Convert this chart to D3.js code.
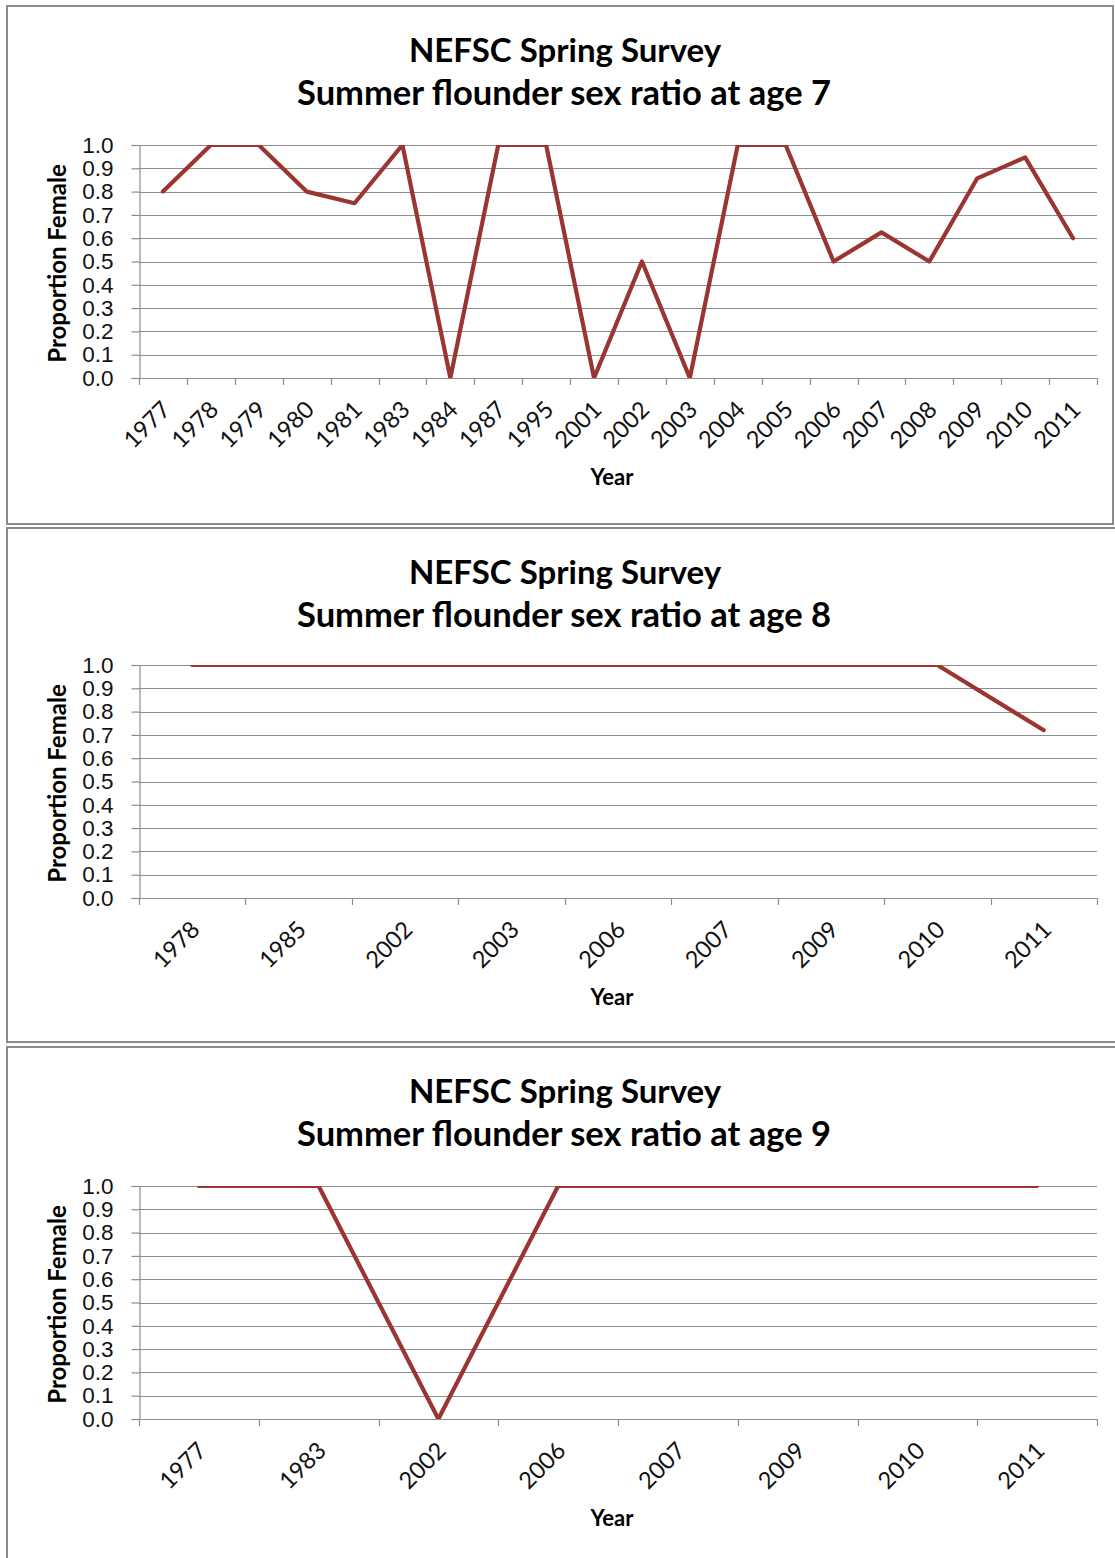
<!DOCTYPE html>
<html>
<head>
<meta charset="utf-8">
<script src="https://cdn.jsdelivr.net/npm/d3@7"></script>
<style>
  html, body { margin: 0; padding: 0; background: #ffffff; }
  svg { display: block; }
</style>
</head>
<body>
<svg id="chart" width="1115" height="1558"></svg>
<script>
// ---------------- DATA ----------------
const titleLine1 = "NEFSC Spring Survey";
const titleLines2 = [
  "Summer flounder sex ratio at age 7",
  "Summer flounder sex ratio at age 8",
  "Summer flounder sex ratio at age 9"
];
const yAxisTitle = "Proportion Female";
const xAxisTitle = "Year";
const yTickValues = [0.0, 0.1, 0.2, 0.3, 0.4, 0.5, 0.6, 0.7, 0.8, 0.9, 1.0];

const years7 = ["1977","1978","1979","1980","1981","1983","1984","1987","1995","2001",
                "2002","2003","2004","2005","2006","2007","2008","2009","2010","2011"];
const values7 = [0.80, 1.00, 1.00, 0.80, 0.75, 1.00, 0.00, 1.00, 1.00, 0.00,
                 0.50, 0.00, 1.00, 1.00, 0.50, 0.625, 0.50, 0.857, 0.947, 0.60];

const years8 = ["1978","1985","2002","2003","2006","2007","2009","2010","2011"];
const values8 = [1.00, 1.00, 1.00, 1.00, 1.00, 1.00, 1.00, 1.00, 0.72];

const years9 = ["1977","1983","2002","2006","2007","2009","2010","2011"];
const values9 = [1.00, 1.00, 0.00, 1.00, 1.00, 1.00, 1.00, 1.00];

// ---------------- LAYOUT ----------------
const panels = [
  { years: years7, values: values7, title2: titleLines2[0], boxTop: 6,    boxBottom: 524,  boxRight: 1113, plotTop: 145,  plotBottom: 378 },
  { years: years8, values: values8, title2: titleLines2[1], boxTop: 528,  boxBottom: 1042, boxRight: 1125, plotTop: 665,  plotBottom: 898 },
  { years: years9, values: values9, title2: titleLines2[2], boxTop: 1047, boxBottom: 1570, boxRight: 1125, plotTop: 1186, plotBottom: 1419 }
];
const plotLeft = 139, plotRight = 1097, boxLeft = 7;
const lineColor = "#9a3532";
const gridColor = "#8e8e8e";
const borderColor = "#8a8a8a";
const titleFont = "Lato, 'Open Sans', sans-serif";
const tickFont = "'Liberation Sans', Arial, sans-serif";

const svg = d3.select("#chart");
const defs = svg.append("defs");

panels.forEach((p, i) => {
  const g = svg.append("g");

  // outer frame
  g.append("rect")
    .attr("x", boxLeft).attr("y", p.boxTop)
    .attr("width", p.boxRight - boxLeft).attr("height", p.boxBottom - p.boxTop)
    .attr("fill", "#ffffff").attr("stroke", borderColor).attr("stroke-width", 2);

  const x = d3.scaleBand().domain(p.years).range([plotLeft, plotRight]).paddingInner(0).paddingOuter(0);
  const y = d3.scaleLinear().domain([0, 1]).range([p.plotBottom, p.plotTop]);

  // titles
  g.append("text")
    .attr("x", 565).attr("y", p.boxTop + 56)
    .attr("text-anchor", "middle")
    .attr("font-family", titleFont).attr("font-weight", "bold").attr("font-size", 33)
    .attr("fill", "#000").text(titleLine1);
  g.append("text")
    .attr("x", 564).attr("y", p.boxTop + 99)
    .attr("text-anchor", "middle")
    .attr("font-family", titleFont).attr("font-weight", "bold").attr("font-size", 34.5)
    .attr("fill", "#000").text(p.title2);

  // horizontal gridlines
  g.append("g").selectAll("line").data(yTickValues).join("line")
    .attr("x1", plotLeft).attr("x2", plotRight)
    .attr("y1", d => Math.round(y(d)) + 0.5).attr("y2", d => Math.round(y(d)) + 0.5)
    .attr("stroke", gridColor).attr("stroke-width", 1.2);

  // y axis
  const yAxis = d3.axisLeft(y).tickValues(yTickValues).tickFormat(d3.format(".1f")).tickSize(8).tickPadding(18);
  const ya = g.append("g").attr("transform", `translate(${plotLeft + 0.5},0)`).call(yAxis);
  ya.select(".domain").attr("stroke", gridColor).attr("stroke-width", 1.2);
  ya.selectAll(".tick line").attr("stroke", gridColor).attr("stroke-width", 1.2);
  ya.selectAll(".tick text")
    .attr("font-family", tickFont).attr("font-size", 22.5).attr("fill", "#111");

  // x axis with ticks at category boundaries
  const bounds = p.years.map(d => x(d)).concat([plotRight]);
  const xa = g.append("g");
  xa.append("line")
    .attr("x1", plotLeft).attr("x2", plotRight)
    .attr("y1", p.plotBottom + 0.5).attr("y2", p.plotBottom + 0.5)
    .attr("stroke", gridColor).attr("stroke-width", 1.2);
  xa.selectAll("line.tk").data(bounds).join("line").attr("class", "tk")
    .attr("x1", d => Math.round(d) + 0.5).attr("x2", d => Math.round(d) + 0.5)
    .attr("y1", p.plotBottom).attr("y2", p.plotBottom + 7)
    .attr("stroke", gridColor).attr("stroke-width", 1.2);
  xa.selectAll("text").data(p.years).join("text")
    .attr("transform", d => `translate(${x(d) + x.bandwidth() / 2 + 9},${p.plotBottom + 33}) rotate(-45)`)
    .attr("text-anchor", "end")
    .attr("font-family", titleFont).attr("font-size", 23.5).attr("fill", "#111")
    .text(d => d);

  // axis titles
  g.append("text")
    .attr("transform", `translate(66,${(p.plotTop + p.plotBottom) / 2 + 2}) rotate(-90)`)
    .attr("text-anchor", "middle")
    .attr("font-family", titleFont).attr("font-weight", "bold").attr("font-size", 24)
    .attr("fill", "#000").text(yAxisTitle);
  g.append("text")
    .attr("x", 612).attr("y", p.plotBottom + 107)
    .attr("text-anchor", "middle")
    .attr("font-family", titleFont).attr("font-weight", "bold").attr("font-size", 22)
    .attr("fill", "#000").text(xAxisTitle);

  // clip + data line
  const clipId = "clip" + i;
  defs.append("clipPath").attr("id", clipId).append("rect")
    .attr("x", plotLeft).attr("y", p.plotTop)
    .attr("width", plotRight - plotLeft).attr("height", p.plotBottom - p.plotTop);

  const line = d3.line()
    .x((d, k) => x(p.years[k]) + x.bandwidth() / 2)
    .y(d => y(d));
  g.append("path")
    .datum(p.values)
    .attr("clip-path", `url(#${clipId})`)
    .attr("d", line)
    .attr("fill", "none")
    .attr("stroke", lineColor).attr("stroke-width", 4.2)
    .attr("stroke-linejoin", "round").attr("stroke-linecap", "round");
});
</script>
</body>
</html>
